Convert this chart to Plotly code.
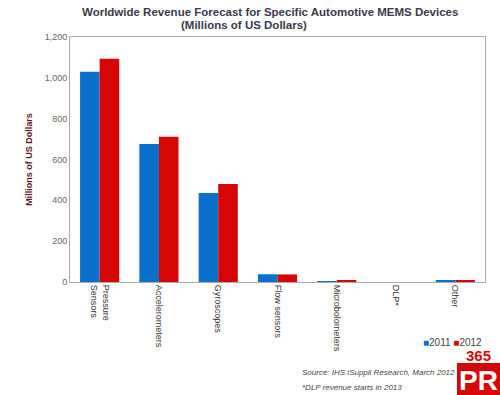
import plotly.graph_objects as go

categories = ["Pressure<br>Sensors", "Accelerometers", "Gyroscopes", "Flow sensors",
              "Microbolometers", "DLP*", "Other"]
values_2011 = [1030, 676, 436, 38, 4, 0, 6]
values_2012 = [1093, 712, 480, 37, 9, 0, 9]
y_ticks = [0, 200, 400, 600, 800, 1000, 1200]
y_tick_labels = ["0", "200", "400", "600", "800", "1,000", "1,200"]

BLUE = "#0b6fcc"
RED = "#d60606"

L, R, T, B = 70, 15, 37, 113
PW, PH = 500 - L - R, 395 - T - B


def px(x):
    return (x - L) / PW


def py(y):
    return (395 - B - y) / PH


fig = go.Figure()
fig.add_trace(go.Bar(name="2011", x=categories, y=values_2011, marker_color=BLUE,
                     marker_line_width=0))
fig.add_trace(go.Bar(name="2012", x=categories, y=values_2012, marker_color=RED,
                     marker_line_width=0))

fig.update_layout(
    width=500, height=395,
    margin=dict(l=L, r=R, t=T, b=B, autoexpand=False),
    paper_bgcolor="white", plot_bgcolor="white",
    barmode="group", bargap=0.34, bargroupgap=0,
    font=dict(family="Arial, Liberation Sans, sans-serif", size=9, color="#555"),
    showlegend=False,
)
fig.update_xaxes(tickangle=90, showline=True, linecolor="#b0a8a8", linewidth=1, mirror=True,
                 ticks="", tickfont=dict(size=9, color="#333"))
fig.update_yaxes(range=[0, 1200], tickvals=y_ticks, ticktext=y_tick_labels,
                 showgrid=False, showline=True, linecolor="#b0a8a8", linewidth=1, mirror=True,
                 ticks="", tickfont=dict(size=9, color="#666"),
                 title=dict(text="<b>Millions of US Dollars</b>", font=dict(size=9, color="#5a1a2a"),
                            standoff=10))

# title (two lines)
fig.add_annotation(text="<b>Worldwide Revenue Forecast for Specific Automotive MEMS Devices</b>",
                   xref="paper", yref="paper", x=px(270), y=py(12), xanchor="center",
                   yanchor="middle", showarrow=False, font=dict(size=11.5, color="#3a3a4a"))
fig.add_annotation(text="<b>(Millions of US Dollars)</b>",
                   xref="paper", yref="paper", x=px(244), y=py(25), xanchor="center",
                   yanchor="middle", showarrow=False, font=dict(size=11.5, color="#3a3a4a"))

# legend
fig.add_annotation(text=f"<span style='color:{BLUE}'>■</span>2011 <span style='color:{RED}'>■</span>2012",
                   xref="paper", yref="paper", x=px(484), y=py(342), xanchor="right",
                   yanchor="middle", showarrow=False, font=dict(size=10, color="#444"))

# notes
fig.add_annotation(text="<i>Source: IHS iSuppli Research, March 2012</i>", xref="paper", yref="paper",
                   x=px(300), y=py(372), xanchor="left", yanchor="middle",
                   showarrow=False, font=dict(size=8, color="#444"))
fig.add_annotation(text="<i>*DLP revenue starts in 2013</i>", xref="paper", yref="paper",
                   x=px(300), y=py(387), xanchor="left", yanchor="middle",
                   showarrow=False, font=dict(size=8, color="#444"))

# 365PR logo
fig.add_shape(type="rect", xref="paper", yref="paper",
              x0=px(457), x1=px(500), y0=py(395), y1=py(363),
              fillcolor=RED, line_width=0)
fig.add_annotation(text="<b>365</b>", xref="paper", yref="paper",
                   x=px(478), y=py(355), xanchor="center", yanchor="middle",
                   showarrow=False, font=dict(size=15, color=RED, family="Arial Black, Arial"))
fig.add_annotation(text="<b>PR</b>", xref="paper", yref="paper",
                   x=px(478), y=py(380), xanchor="center", yanchor="middle",
                   showarrow=False, font=dict(size=28, color="white", family="Arial Black, Arial"))

fig.write_html("out.html", config={"displayModeBar": False},
               post_script="document.body.style.margin='0';document.body.style.overflow='hidden';")
